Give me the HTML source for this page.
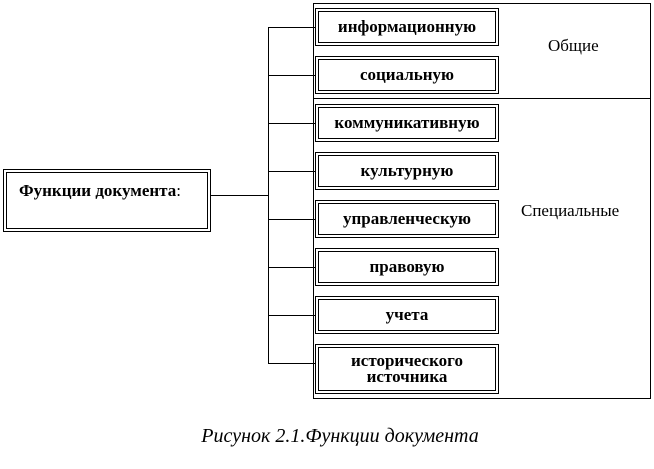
<!DOCTYPE html>
<html><head><meta charset="utf-8"><style>
body{margin:0;width:654px;height:469px;background:#fff;position:relative;overflow:hidden;font-family:"Liberation Serif","DejaVu Serif",serif;}
.a{position:absolute;}
.box{position:absolute;left:315px;width:178px;border:1px solid #000;padding:2px;}
.box div{border:1px solid #000;height:100%;box-sizing:border-box;display:flex;align-items:center;justify-content:center;font-weight:bold;font-size:17px;text-align:center;line-height:16px;}
.h{position:absolute;height:1px;background:#000;}
.v{position:absolute;width:1px;background:#000;}
</style></head><body>
<div class="a" style="left:313px;top:3px;width:336px;height:394px;border:1px solid #000;"></div>
<div class="h" style="left:314px;top:98px;width:336px;"></div>
<div class="v" style="left:268px;top:27px;height:337px;"></div>
<div class="h" style="left:211px;top:195px;width:57px;"></div>
<div class="h" style="left:268px;top:27px;width:48px;"></div>
<div class="h" style="left:268px;top:75px;width:48px;"></div>
<div class="h" style="left:268px;top:123px;width:48px;"></div>
<div class="h" style="left:268px;top:171px;width:48px;"></div>
<div class="h" style="left:268px;top:219px;width:48px;"></div>
<div class="h" style="left:268px;top:267px;width:48px;"></div>
<div class="h" style="left:268px;top:315px;width:48px;"></div>
<div class="h" style="left:268px;top:363px;width:48px;"></div>
<div class="box" style="top:8px;height:32px;"><div>информационную</div></div>
<div class="box" style="top:56px;height:32px;"><div>социальную</div></div>
<div class="box" style="top:104px;height:32px;"><div>коммуникативную</div></div>
<div class="box" style="top:152px;height:32px;"><div>культурную</div></div>
<div class="box" style="top:200px;height:32px;"><div>управленческую</div></div>
<div class="box" style="top:248px;height:32px;"><div>правовую</div></div>
<div class="box" style="top:296px;height:32px;"><div>учета</div></div>
<div class="box" style="top:344px;height:44px;"><div>исторического<br>источника</div></div>
<div class="a" style="left:3px;top:169px;width:202px;height:57px;border:1px solid #000;padding:2px;"><div style="border:1px solid #000;height:100%;box-sizing:border-box;font-weight:bold;font-size:17px;padding:8px 0 0 12px;">Функции документа<span style="font-weight:normal">:</span></div></div>
<div class="a" style="left:548px;top:36px;font-size:17px;">Общие</div>
<div class="a" style="left:521px;top:201px;font-size:17px;">Специальные</div>
<div class="a" style="left:0;width:680px;top:425px;text-align:center;font-size:20px;font-style:italic;">Рисунок 2.1.Функции документа</div>
</body></html>
